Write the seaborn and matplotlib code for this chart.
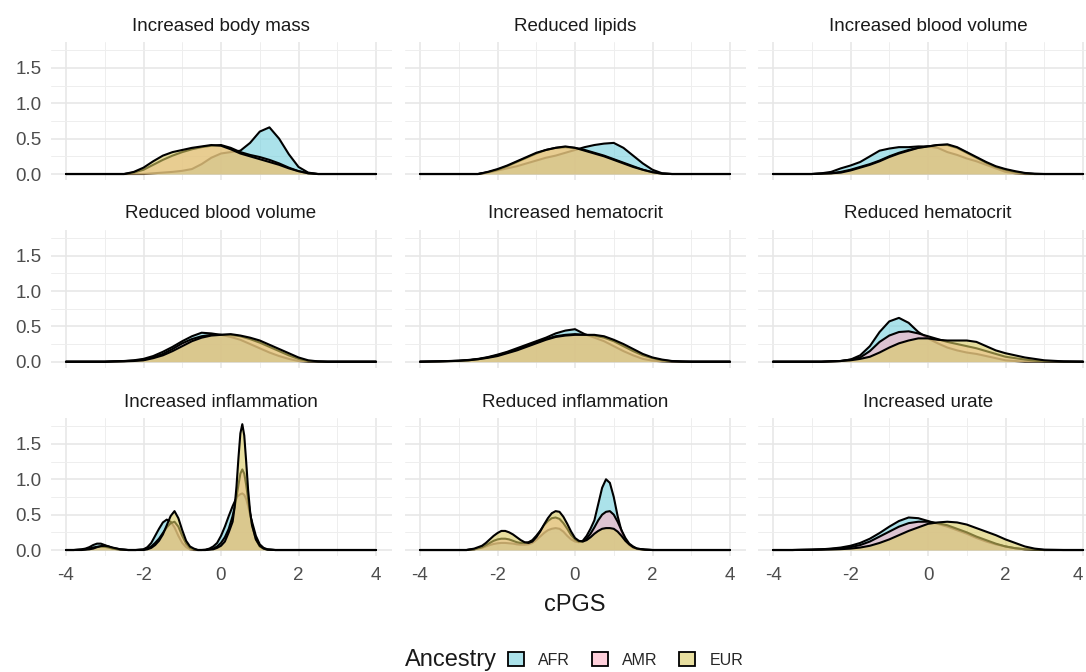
import pandas as pd
import seaborn as sns
import matplotlib.pyplot as plt
from matplotlib.colors import to_rgba
from matplotlib.patches import Patch
from matplotlib.ticker import MultipleLocator

sns.set_style("white")
plt.rcParams['font.family'] = ['Liberation Sans', 'DejaVu Sans']
plt.rcParams['axes.unicode_minus'] = False

traits = ["Increased body mass", "Reduced lipids", "Increased blood volume",
          "Reduced blood volume", "Increased hematocrit", "Reduced hematocrit",
          "Increased inflammation", "Reduced inflammation", "Increased urate"]
ancestries = ["AFR", "AMR", "EUR"]
fill_colors = ["#74cfdd", "#ffb1c3", "#d9cb61"]

# density heights at these cPGS values
x_broad = [-4, -3.5, -3, -2.75, -2.5, -2.25, -2, -1.75, -1.5, -1.25, -1, -0.75, -0.5, -0.25,
           0, 0.25, 0.5, 0.75, 1, 1.25, 1.5, 1.75, 2, 2.25, 2.5, 2.75, 3, 3.5, 4]

body_mass_afr = [0, 0, 0, 0, 0, 0, 0, 0.01, 0.02, 0.03, 0.045, 0.07, 0.14, 0.23, 0.29, 0.31, 0.33,
                 0.44, 0.6, 0.66, 0.5, 0.28, 0.1, 0.02, 0, 0, 0, 0, 0]
body_mass_amr = [0, 0, 0, 0, 0, 0.02, 0.06, 0.13, 0.2, 0.26, 0.31, 0.35, 0.38, 0.4, 0.41, 0.37, 0.31,
                 0.27, 0.24, 0.2, 0.15, 0.09, 0.04, 0.01, 0, 0, 0, 0, 0]
body_mass_eur = [0, 0, 0, 0, 0, 0.03, 0.09, 0.18, 0.26, 0.31, 0.34, 0.37, 0.39, 0.41, 0.4, 0.35, 0.29,
                 0.25, 0.21, 0.17, 0.13, 0.08, 0.04, 0.01, 0, 0, 0, 0, 0]

lipids_afr = [0, 0, 0, 0, 0, 0.02, 0.05, 0.08, 0.11, 0.15, 0.19, 0.23, 0.26, 0.3, 0.34, 0.38, 0.41,
              0.43, 0.44, 0.37, 0.26, 0.15, 0.06, 0.01, 0, 0, 0, 0, 0]
lipids_amr = [0, 0, 0, 0, 0, 0.025, 0.06, 0.11, 0.17, 0.23, 0.29, 0.34, 0.37, 0.38, 0.37, 0.34, 0.3,
              0.26, 0.21, 0.16, 0.11, 0.06, 0.025, 0.005, 0, 0, 0, 0, 0]
lipids_eur = [0, 0, 0, 0, 0, 0.03, 0.07, 0.12, 0.18, 0.24, 0.3, 0.34, 0.37, 0.39, 0.37, 0.33, 0.29,
              0.25, 0.2, 0.15, 0.1, 0.06, 0.025, 0.005, 0, 0, 0, 0, 0]

inc_volume_afr = [0, 0, 0, 0.01, 0.03, 0.08, 0.12, 0.17, 0.25, 0.33, 0.36, 0.38, 0.38, 0.39, 0.39,
                  0.37, 0.31, 0.27, 0.22, 0.18, 0.13, 0.08, 0.03, 0.01, 0, 0, 0, 0, 0]
inc_volume_amr = [0, 0, 0, 0.005, 0.01, 0.03, 0.06, 0.1, 0.14, 0.19, 0.25, 0.3, 0.34, 0.37, 0.39,
                  0.41, 0.41, 0.37, 0.3, 0.23, 0.16, 0.1, 0.06, 0.03, 0.01, 0, 0, 0, 0]
inc_volume_eur = [0, 0, 0, 0.005, 0.01, 0.02, 0.05, 0.09, 0.13, 0.18, 0.24, 0.29, 0.33, 0.37, 0.39,
                  0.41, 0.42, 0.38, 0.31, 0.24, 0.17, 0.11, 0.07, 0.04, 0.015, 0.005, 0, 0, 0]

red_volume_afr = [0, 0, 0, 0.005, 0.01, 0.02, 0.04, 0.08, 0.14, 0.21, 0.29, 0.36, 0.41, 0.4, 0.38,
                  0.35, 0.31, 0.25, 0.19, 0.13, 0.08, 0.04, 0.01, 0, 0, 0, 0, 0, 0]
red_volume_amr = [0, 0, 0, 0.005, 0.008, 0.015, 0.03, 0.06, 0.11, 0.18, 0.26, 0.32, 0.36, 0.38, 0.38,
                  0.38, 0.36, 0.32, 0.27, 0.21, 0.15, 0.09, 0.04, 0.01, 0.003, 0, 0, 0, 0]
red_volume_eur = [0, 0, 0, 0.003, 0.005, 0.01, 0.02, 0.05, 0.09, 0.15, 0.22, 0.29, 0.34, 0.37, 0.38,
                  0.39, 0.37, 0.34, 0.3, 0.24, 0.18, 0.12, 0.06, 0.02, 0.005, 0, 0, 0, 0]

inc_hct_afr = [0, 0.005, 0.015, 0.025, 0.04, 0.065, 0.1, 0.14, 0.19, 0.24, 0.29, 0.34, 0.4, 0.44,
               0.46, 0.39, 0.34, 0.29, 0.22, 0.15, 0.09, 0.04, 0.015, 0.005, 0, 0, 0, 0, 0]
inc_hct_amr = [0, 0.005, 0.012, 0.02, 0.035, 0.06, 0.09, 0.13, 0.17, 0.22, 0.27, 0.32, 0.36, 0.38,
               0.39, 0.38, 0.37, 0.34, 0.29, 0.22, 0.15, 0.09, 0.05, 0.02, 0.007, 0, 0, 0, 0]
inc_hct_eur = [0, 0.005, 0.012, 0.02, 0.035, 0.055, 0.08, 0.12, 0.16, 0.21, 0.26, 0.31, 0.35, 0.37,
               0.38, 0.38, 0.38, 0.36, 0.31, 0.25, 0.18, 0.11, 0.06, 0.03, 0.01, 0.005, 0, 0, 0]

red_hct_afr = [0, 0, 0, 0, 0.005, 0.01, 0.03, 0.09, 0.22, 0.42, 0.57, 0.62, 0.55, 0.42, 0.33, 0.26,
               0.2, 0.16, 0.13, 0.11, 0.08, 0.05, 0.02, 0.01, 0, 0, 0, 0, 0]
red_hct_amr = [0, 0, 0, 0, 0.005, 0.01, 0.03, 0.06, 0.15, 0.28, 0.37, 0.42, 0.43, 0.4, 0.36, 0.32,
               0.28, 0.25, 0.22, 0.19, 0.15, 0.11, 0.07, 0.05, 0.03, 0.015, 0.005, 0, 0]
red_hct_eur = [0, 0, 0, 0, 0.005, 0.01, 0.02, 0.04, 0.07, 0.13, 0.2, 0.26, 0.3, 0.33, 0.33, 0.31,
               0.3, 0.3, 0.3, 0.28, 0.22, 0.16, 0.12, 0.09, 0.06, 0.04, 0.02, 0.005, 0]

x_inc_infl = [-4, -3.8, -3.6, -3.5, -3.4, -3.3, -3.2, -3.1, -3.0, -2.9, -2.8, -2.6, -2.4, -2.2,
              -2.0, -1.9, -1.8, -1.7, -1.6, -1.5, -1.4, -1.3, -1.2, -1.1, -1.0, -0.9, -0.8, -0.7,
              -0.6, -0.5, -0.4, -0.3, -0.2, -0.1, 0.0, 0.1, 0.2, 0.3, 0.35, 0.4, 0.45, 0.5, 0.55,
              0.6, 0.65, 0.7, 0.75, 0.8, 0.9, 1.0, 1.1, 1.2, 1.4, 2.0, 4]
inc_infl_afr = [0, 0, 0.01, 0.02, 0.04, 0.07, 0.09, 0.09, 0.07, 0.05, 0.03, 0.01, 0, 0,
                0.01, 0.04, 0.1, 0.2, 0.3, 0.39, 0.43, 0.4, 0.32, 0.2, 0.1, 0.04, 0.01, 0,
                0, 0, 0.005, 0.02, 0.05, 0.1, 0.2, 0.33, 0.48, 0.62, 0.68, 0.74, 0.77, 0.79, 0.8,
                0.78, 0.72, 0.62, 0.5, 0.4, 0.2, 0.08, 0.03, 0.01, 0, 0, 0]
inc_infl_amr = [0, 0, 0.005, 0.01, 0.02, 0.035, 0.045, 0.05, 0.045, 0.035, 0.02, 0.005, 0, 0,
                0.005, 0.02, 0.05, 0.1, 0.16, 0.24, 0.32, 0.38, 0.4, 0.33, 0.2, 0.09, 0.03, 0.01,
                0, 0, 0, 0.01, 0.02, 0.05, 0.1, 0.18, 0.3, 0.48, 0.6, 0.75, 0.92, 1.08, 1.14,
                1.08, 0.92, 0.72, 0.52, 0.36, 0.15, 0.05, 0.02, 0.005, 0, 0, 0]
inc_infl_eur = [0, 0, 0, 0.005, 0.01, 0.02, 0.04, 0.055, 0.06, 0.05, 0.035, 0.01, 0, 0,
                0, 0.01, 0.03, 0.07, 0.13, 0.22, 0.35, 0.48, 0.55, 0.45, 0.28, 0.13, 0.05, 0.02,
                0, 0, 0, 0.005, 0.01, 0.03, 0.06, 0.12, 0.25, 0.4, 0.6, 0.9, 1.3, 1.65, 1.78,
                1.62, 1.25, 0.85, 0.55, 0.35, 0.15, 0.06, 0.02, 0.005, 0, 0, 0]

x_red_infl = [-4, -3, -2.8, -2.6, -2.4, -2.3, -2.2, -2.1, -2.0, -1.9, -1.8, -1.7, -1.6, -1.5,
              -1.4, -1.3, -1.2, -1.1, -1.0, -0.9, -0.8, -0.7, -0.6, -0.5, -0.4, -0.3, -0.2, -0.1,
              0.0, 0.1, 0.2, 0.3, 0.4, 0.5, 0.6, 0.7, 0.8, 0.9, 1.0, 1.1, 1.2, 1.3, 1.4, 1.5,
              1.6, 1.8, 2.0, 3, 4]
red_infl_afr = [0, 0, 0, 0.01, 0.03, 0.05, 0.07, 0.085, 0.095, 0.1, 0.1, 0.095, 0.09, 0.08,
                0.075, 0.075, 0.08, 0.1, 0.14, 0.19, 0.24, 0.28, 0.3, 0.31, 0.3, 0.26, 0.2, 0.15,
                0.12, 0.11, 0.13, 0.2, 0.3, 0.42, 0.65, 0.88, 1.0, 0.95, 0.75, 0.48, 0.27, 0.14,
                0.07, 0.035, 0.015, 0.005, 0, 0, 0]
red_infl_amr = [0, 0, 0, 0.01, 0.04, 0.07, 0.1, 0.13, 0.15, 0.16, 0.16, 0.15, 0.13, 0.11,
                0.1, 0.1, 0.11, 0.14, 0.2, 0.27, 0.35, 0.41, 0.45, 0.46, 0.44, 0.38, 0.3, 0.21,
                0.15, 0.12, 0.12, 0.16, 0.23, 0.32, 0.42, 0.5, 0.54, 0.55, 0.5, 0.4, 0.28, 0.17,
                0.09, 0.05, 0.02, 0.005, 0, 0, 0]
red_infl_eur = [0, 0, 0, 0.02, 0.06, 0.1, 0.15, 0.2, 0.24, 0.27, 0.27, 0.25, 0.22, 0.18,
                0.14, 0.11, 0.1, 0.12, 0.18, 0.26, 0.36, 0.45, 0.52, 0.55, 0.54, 0.47, 0.37, 0.26,
                0.17, 0.13, 0.12, 0.14, 0.18, 0.23, 0.27, 0.3, 0.31, 0.31, 0.3, 0.26, 0.2, 0.13,
                0.08, 0.04, 0.02, 0.005, 0, 0, 0]

urate_afr = [0, 0, 0.005, 0.01, 0.02, 0.035, 0.06, 0.1, 0.16, 0.24, 0.33, 0.41, 0.46, 0.45, 0.41,
             0.37, 0.33, 0.28, 0.23, 0.17, 0.12, 0.08, 0.05, 0.025, 0.01, 0.005, 0, 0, 0]
urate_amr = [0, 0, 0.005, 0.01, 0.015, 0.025, 0.04, 0.07, 0.12, 0.19, 0.26, 0.33, 0.38, 0.4, 0.4,
             0.38, 0.35, 0.3, 0.25, 0.19, 0.14, 0.09, 0.05, 0.025, 0.01, 0.003, 0, 0, 0]
urate_eur = [0, 0, 0.002, 0.004, 0.007, 0.012, 0.02, 0.035, 0.06, 0.1, 0.15, 0.21, 0.27, 0.32, 0.37,
             0.39, 0.4, 0.39, 0.36, 0.31, 0.26, 0.21, 0.15, 0.1, 0.05, 0.02, 0.005, 0, 0]

panels = [
    (traits[0], x_broad, body_mass_afr, body_mass_amr, body_mass_eur),
    (traits[1], x_broad, lipids_afr, lipids_amr, lipids_eur),
    (traits[2], x_broad, inc_volume_afr, inc_volume_amr, inc_volume_eur),
    (traits[3], x_broad, red_volume_afr, red_volume_amr, red_volume_eur),
    (traits[4], x_broad, inc_hct_afr, inc_hct_amr, inc_hct_eur),
    (traits[5], x_broad, red_hct_afr, red_hct_amr, red_hct_eur),
    (traits[6], x_inc_infl, inc_infl_afr, inc_infl_amr, inc_infl_eur),
    (traits[7], x_red_infl, red_infl_afr, red_infl_amr, red_infl_eur),
    (traits[8], x_broad, urate_afr, urate_amr, urate_eur),
]

rows = []
for trait, xs, *curves in panels:
    for anc, ys in zip(ancestries, curves):
        assert len(xs) == len(ys), (trait, anc)
        rows += [{"trait": trait, "Ancestry": anc, "cPGS": x, "density": y} for x, y in zip(xs, ys)]
df = pd.DataFrame(rows)


def draw_density(data, color, **kws):
    ax = plt.gca()
    k = ancestries.index(data["Ancestry"].iloc[0])
    # each ancestry's outline sits under the next one's fill, like ggplot layering
    ax.fill_between(data["cPGS"], 0, data["density"], color=color, alpha=0.6, lw=0, zorder=2 + 2 * k)
    ax.plot(data["cPGS"], data["density"], color="black", lw=1.5, zorder=3 + 2 * k)


g = sns.FacetGrid(df, col="trait", col_wrap=3, col_order=traits, hue="Ancestry",
                  hue_order=ancestries, palette=fill_colors, sharex=True, sharey=True)
g.map_dataframe(draw_density)
g.set_titles("{col_name}")
g.set_axis_labels("", "")

fig = g.figure
fig.set_size_inches(10.86, 6.72)
W, H = 1086, 672
col_left = [50.5, 404.5, 757.5]
row_top = [41.8, 229.5, 417.8]
pw, ph = 341, 138.5

for i, ax in enumerate(g.axes.flat):
    r, c = divmod(i, 3)
    ax.set_position([col_left[c] / W, 1 - (row_top[r] + ph) / H, pw / W, ph / H])
    ax.set_xlim(-4.4, 4.4)
    ax.set_ylim(-0.089, 1.87)
    ax.set_xticks([-4, -2, 0, 2, 4])
    ax.set_yticks([0, 0.5, 1.0, 1.5])
    ax.set_yticklabels(["0.0", "0.5", "1.0", "1.5"])
    ax.xaxis.set_minor_locator(MultipleLocator(1))
    ax.yaxis.set_minor_locator(MultipleLocator(0.25))
    ax.set_axisbelow(True)
    ax.grid(which="major", color="#e6e6e6", lw=1.1)
    ax.grid(which="minor", color="#eeeeee", lw=0.7)
    for s in ax.spines.values():
        s.set_visible(False)
    ax.tick_params(which="both", length=0, labelsize=13.5, labelcolor="#4d4d4d")
    ax.tick_params(axis="x", pad=8, labelbottom=(r == 2))
    ax.tick_params(axis="y", pad=6.5, labelleft=(c == 0))
    for lab in ax.get_xticklabels():
        lab.set_visible(r == 2)
    for lab in ax.get_yticklabels():
        lab.set_visible(c == 0)
    ax.set_title(ax.get_title(), fontsize=13.5, color="#1a1a1a", pad=8)

# last tick label would run past the right edge
g.axes.flat[-1].get_xticklabels()[-1].set_horizontalalignment("right")

fig.text(574.5 / W, 1 - 605 / H, "cPGS", ha="center", va="center", fontsize=17, color="#1a1a1a")
fig.text(405 / W, 1 - 660 / H, "Ancestry", ha="left", va="center", fontsize=17, color="#1a1a1a")
handles = [Patch(facecolor=to_rgba(c, 0.6), edgecolor="black", lw=1.3) for c in fill_colors]
fig.legend(handles, ancestries, loc="center left", bbox_to_anchor=(508 / W, 1 - 660 / H),
           ncol=3, frameon=False, fontsize=11.5, handlelength=1.0, handleheight=1.0,
           handletextpad=0.9, columnspacing=1.35, borderpad=0, borderaxespad=0)

fig.savefig("out.png", dpi=100)
